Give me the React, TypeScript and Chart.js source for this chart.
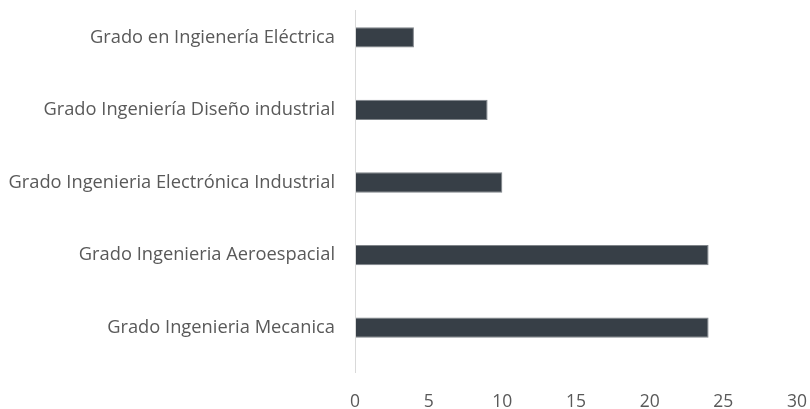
import React, { useEffect, useRef } from "react";
import { Chart, registerables } from "chart.js";

Chart.register(...registerables);

const categories = [
  "Grado en Ingienería Eléctrica",
  "Grado Ingeniería Diseño industrial",
  "Grado Ingenieria Electrónica Industrial",
  "Grado Ingenieria Aeroespacial",
  "Grado Ingenieria Mecanica",
];
const values = [4, 9, 10, 24, 24];
const xMin = 0;
const xMax = 30;
const xStep = 5;

const axisLinePlugin = {
  id: "axisLine",
  afterDatasetsDraw(chart: any) {
    const { ctx, chartArea, scales } = chart;
    const x = Math.round(scales.x.getPixelForValue(0)) + 0.5;
    ctx.save();
    ctx.strokeStyle = "#d9d9d9";
    ctx.lineWidth = 1;
    ctx.beginPath();
    ctx.moveTo(x, chartArea.top + 9);
    ctx.lineTo(x, chartArea.bottom + 9);
    ctx.stroke();
    ctx.restore();
  },
};

export default function App() {
  const ref = useRef<HTMLCanvasElement | null>(null);
  useEffect(() => {
    if (!ref.current) return;
    const chart = new Chart(ref.current, {
      type: "bar",
      data: {
        labels: categories,
        datasets: [
          {
            data: values,
            backgroundColor: "#373f47",
            borderColor: "#7f8489",
            borderWidth: 1,
            borderSkipped: false,
            barPercentage: 0.28,
            categoryPercentage: 1,
          },
        ],
      },
      options: {
        indexAxis: "y",
        animation: false,
        responsive: false,
        maintainAspectRatio: false,
        layout: { padding: { top: 1, right: 13, left: 0, bottom: 0 } },
        plugins: { legend: { display: false }, tooltip: { enabled: false } },
        scales: {
          x: {
            min: xMin,
            max: xMax,
            afterFit: (s: any) => {
              s.height = 45;
              s.paddingLeft = 0;
              s.paddingRight = 0;
              s.paddingTop = 0;
              s.paddingBottom = 0;
            },
            ticks: {
              stepSize: xStep,
              color: "#595959",
              padding: 28,
              maxRotation: 0,
              font: { family: "'Open Sans'", size: 17.5 },
            },
            grid: { display: false, drawTicks: false },
            border: { display: false },
          },
          y: {
            afterFit: (s: any) => {
              s.width = 355;
              s.paddingLeft = 0;
              s.paddingRight = 0;
              s.paddingTop = 0;
              s.paddingBottom = 0;
            },
            ticks: {
              color: "#595959",
              padding: 20,
              font: { family: "'Open Sans'", size: 18.3 },
            },
            grid: { display: false, drawTicks: false },
            border: { display: false },
          },
        },
      },
      plugins: [axisLinePlugin],
    });
    return () => chart.destroy();
  }, []);
  return (
    <div style={{ position: "fixed", left: 0, top: 0, width: 810, height: 409, background: "#fff" }}>
      <canvas ref={ref} width={810} height={409} style={{ width: 810, height: 409 }} />
    </div>
  );
}
